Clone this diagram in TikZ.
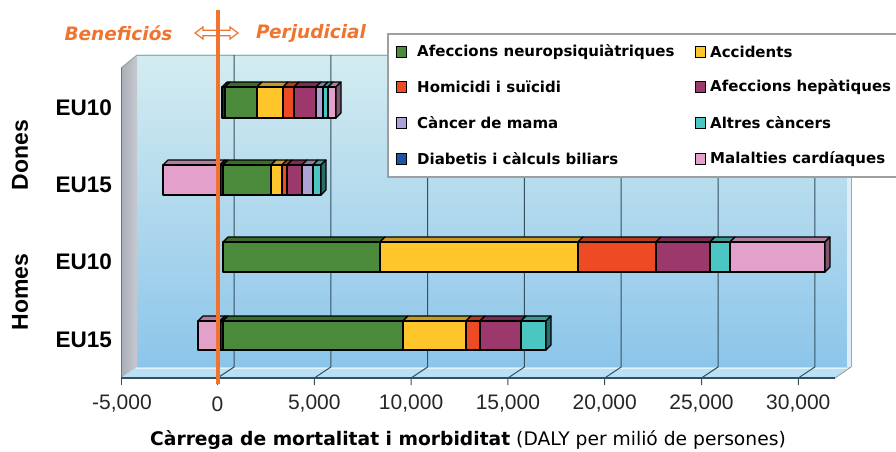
\documentclass[tikz,border=0pt]{standalone}
\usepackage{fontspec}
\setmainfont{DejaVu Sans}
\newfontfamily\arialf{Liberation Sans}
\definecolor{cgreen}{HTML}{4A8A3A}
\definecolor{cyellow}{HTML}{FFC62C}
\definecolor{cred}{HTML}{EE4B24}
\definecolor{cpurple}{HTML}{9C386C}
\definecolor{clav}{HTML}{ADA3D6}
\definecolor{cteal}{HTML}{4CC6C2}
\definecolor{cblue}{HTML}{1A55A8}
\definecolor{cnavy}{HTML}{1A2E55}
\definecolor{cpink}{HTML}{E2A0CB}
\definecolor{corange}{HTML}{F07430}
\definecolor{gridc}{HTML}{34505F}
\definecolor{wallTop}{HTML}{D4ECF0}
\definecolor{wallBot}{HTML}{8CC5EA}
\definecolor{floorc}{HTML}{B9E0F4}
\definecolor{sidel}{HTML}{A9ADB6}
\definecolor{sider}{HTML}{C6C9D0}
\newcommand\mybar[3]{%
  \foreach \a/\b/\c in {#3}{%
    \filldraw[segline,fill=\c!78!black] (\a,#1) -- (\a+5,#1-5) -- (\b+5,#1-5) -- (\b,#1) -- cycle;
    \filldraw[segline,fill=\c] (\a,#1) rectangle (\b,#2);
  }}
\newcommand\myend[4]{%
  \filldraw[segline,fill=#4!55!black] (#1,#2) -- (#1+5,#2-5) -- (#1+5,#3-5) -- (#1,#3) -- cycle;}
\begin{document}
\begin{tikzpicture}[x=1pt,y=-1pt,
  segline/.style={draw=black,line width=1.1pt,line join=round},
  gridline/.style={draw=gridc,line width=1pt},
  ticklab/.style={font=\arialf\fontsize{21}{24}\selectfont,text=black!85,inner sep=0pt},
  grplab/.style={font=\arialf\bfseries\fontsize{23}{26}\selectfont,inner sep=0pt,rotate=90},
  eulab/.style={font=\arialf\bfseries\fontsize{22.5}{25}\selectfont,inner sep=0pt,anchor=east},
  toplab/.style={font=\bfseries\itshape\fontsize{18.5}{22}\selectfont,text=corange,inner sep=0pt},
  legtext/.style={font=\bfseries\fontsize{15}{18}\selectfont,inner sep=0pt,anchor=west},
  legbox/.style={draw=black,line width=0.9pt,minimum width=10pt,minimum height=11pt,inner sep=0pt}]
\useasboundingbox (0,0) rectangle (896,452);
\fill[white] (0,0) rectangle (896,452);
% back wall
\shade[top color=wallTop,bottom color=wallBot] (137,55) rectangle (851,367);
\draw[gray!70,line width=0.8pt] (137,55) -- (851,55) -- (851,367);
\fill[white!70!wallBot] (847,56) rectangle (851,367);
% left wall
\shade[left color=sidel,right color=sider] (121,68) -- (137,55) -- (137,367) -- (121,378) -- cycle;
\draw[gray!80,line width=0.8pt] (121,68) -- (137,55);
\draw[gray!90!black,line width=1pt] (121,68) -- (121,378);
% floor
\fill[floorc] (137,367) -- (851,367) -- (835,378) -- (121,378) -- cycle;
\draw[white!60!floorc,line width=1.5pt] (136,368.5) -- (849,368.5);
\draw[gray!80,line width=0.8pt] (851,367) -- (835,378);
% gridlines
\foreach \v in {0,1,2,3,4,5,6}{
  \pgfmathsetmacro\xf{217.5+96.8*\v}
  \draw[gridline] (\xf+16.5,55) -- (\xf+16.5,367) -- (\xf,378) -- (\xf,385);
}
\draw[gridline] (121,378) -- (121,385);
\draw[gridc,line width=1.3pt] (121,378) -- (835,378);
% bars
\mybar{87}{118}{222/225/cnavy,225/257/cgreen,257/283/cyellow,283/294/cred,294/316/cpurple,316/323/clav,323/328/cteal,328/336/cpink}
\myend{336}{87}{118}{cpink}
\mybar{165}{195}{163/220/cpink,220/223/cnavy,223/271/cgreen,271/282/cyellow,282/287/cred,287/302/cpurple,302/313/clav,313/321/cteal}
\myend{321}{165}{195}{cteal}
\mybar{242}{272}{223/380/cgreen,380/578/cyellow,578/656/cred,656/710/cpurple,710/730/cteal,730/825/cpink}
\myend{825}{242}{272}{cpink}
\mybar{321}{350}{198/220/cpink,220/223/cnavy,223/403/cgreen,403/466/cyellow,466/480/cred,480/521/cpurple,521/546/cteal}
\myend{546}{321}{350}{cteal}
% zero line and arrow
\filldraw[draw=corange,fill=white,line width=1.2pt,line join=miter]
  (195,33) -- (203,27) -- (203,30.3) -- (230,30.3) -- (230,27) -- (238,33)
  -- (230,39) -- (230,35.7) -- (203,35.7) -- (203,39) -- cycle;
\draw[corange,line width=4pt] (217.5,10) -- (217.5,384);
\node[toplab] (ben) at (118.5,33) {Beneficiós};
\node[toplab] (per) at (311,33) {Perjudicial};
% tick labels
\node[ticklab] (t0) at (122,404) {-5,000};
\node[ticklab] (t1) at (217.5,404) {0};
\node[ticklab] (t2) at (314.3,404) {5,000};
\node[ticklab] (t3) at (411.1,404) {10,000};
\node[ticklab] (t4) at (507.9,404) {15,000};
\node[ticklab] (t5) at (604.7,404) {20,000};
\node[ticklab] (t6) at (701.5,404) {25,000};
\node[ticklab] (t7) at (798.3,404) {30,000};
\node[inner sep=0pt,anchor=west] (xtitle) at (150,440) {\fontsize{18.7}{22}\selectfont\textbf{Càrrega de mortalitat i morbiditat} (DALY per milió de persones)};
% y labels
\node[eulab] (e1) at (112,108) {EU10};
\node[eulab] (e2) at (112,185) {EU15};
\node[eulab] (e3) at (112,262) {EU10};
\node[eulab] (e4) at (112,340) {EU15};
\node[grplab] (dones) at (20,155) {Dones};
\node[grplab] (homes) at (20,292) {Homes};
% legend
\filldraw[fill=white,draw=gray!75,line width=1.4pt] (388,34) rectangle (899,177);
\node[legbox,fill=cgreen] (l1) at (401,52) {};
\node[legtext] (l1t) at (417,52) {Afeccions neuropsiquiàtriques};
\node[legbox,fill=cyellow] (l2) at (700,52) {};
\node[legtext] (l2t) at (710,52) {Accidents};
\node[legbox,fill=cred] (l3) at (401,87) {};
\node[legtext] (l3t) at (417,87) {Homicidi i suïcidi};
\node[legbox,fill=cpurple] (l4) at (700,87) {};
\node[legtext] (l4t) at (710,87) {Afeccions hepàtiques};
\node[legbox,fill=clav] (l5) at (401,123) {};
\node[legtext] (l5t) at (417,123) {Càncer de mama};
\node[legbox,fill=cteal] (l6) at (700,123) {};
\node[legtext] (l6t) at (710,123) {Altres càncers};
\node[legbox,fill=cblue] (l7) at (401,159) {};
\node[legtext] (l7t) at (417,159) {Diabetis i càlculs biliars};
\node[legbox,fill=cpink] (l8) at (700,159) {};
\node[legtext] (l8t) at (710,159) {Malalties cardíaques};
\end{tikzpicture}
\end{document}
